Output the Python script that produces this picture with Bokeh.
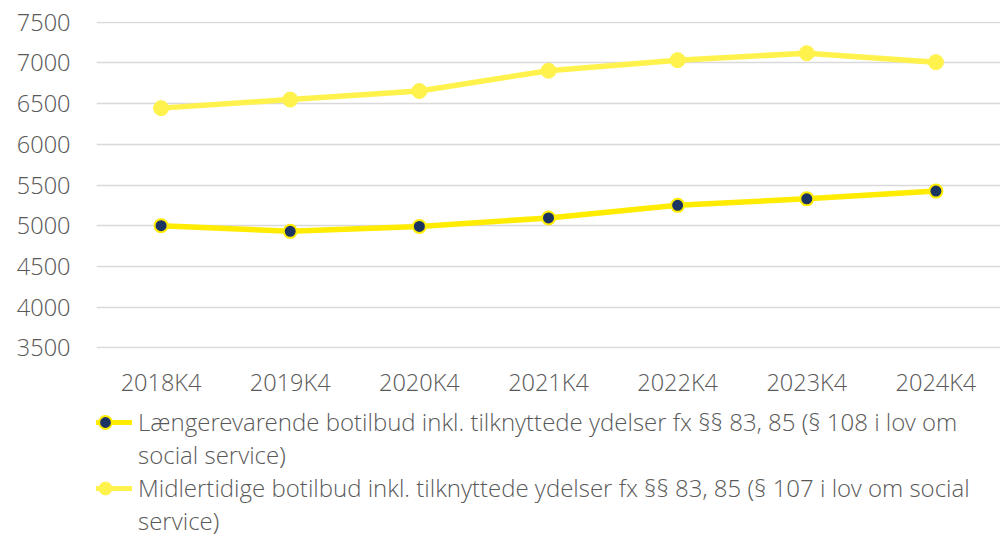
from bokeh.plotting import figure
from bokeh.models import FactorRange, Range1d, FixedTicker, Legend, LegendItem
from bokeh.layouts import column
from bokeh.embed import file_html
from bokeh.resources import INLINE

categories = ["2018K4", "2019K4", "2020K4", "2021K4", "2022K4", "2023K4", "2024K4"]
laengerevarende = [5000, 4930, 4990, 5095, 5250, 5330, 5425]
midlertidige = [6445, 6550, 6655, 6905, 7035, 7120, 7010]
y_ticks = [3500, 4000, 4500, 5000, 5500, 6000, 6500, 7000, 7500]
label_lower = ["Længerevarende botilbud inkl. tilknyttede ydelser fx §§ 83, 85 (§ 108 i lov om",
               "social service)"]
label_upper = ["Midlertidige botilbud inkl. tilknyttede ydelser fx §§ 83, 85 (§ 107 i lov om social",
               "service)"]

FONT = "Open Sans Light"
TEXT = "#595959"
C_LOW = "#FFEC00"
C_UP = "#FFF24D"
C_NAVY = "#1C3461"

p = figure(width=1000, height=400, x_range=FactorRange(*categories),
           y_range=Range1d(3490, 7510), output_backend="svg",
           toolbar_location=None, min_border_left=96, min_border_right=0,
           min_border_top=21, min_border_bottom=52)
p.outline_line_color = None
p.xgrid.grid_line_color = None
p.ygrid.grid_line_color = "#d9d9d9"
p.ygrid.grid_line_width = 1.5
p.yaxis.ticker = FixedTicker(ticks=y_ticks)

for ax in (p.xaxis[0], p.yaxis[0]):
    ax.axis_line_color = None
    ax.major_tick_line_color = None
    ax.minor_tick_line_color = None
    ax.major_tick_in = 0
    ax.major_tick_out = 0
    ax.minor_tick_in = 0
    ax.minor_tick_out = 0
    ax.major_label_text_font = FONT
    ax.major_label_text_font_size = "23.5px"
    ax.major_label_text_color = TEXT
p.yaxis.major_label_standoff = 26
p.xaxis.major_label_standoff = 17

p.line(categories, laengerevarende, line_color=C_LOW, line_width=5.5)
p.scatter(categories, laengerevarende, size=13, fill_color=C_NAVY,
          line_color=C_LOW, line_width=2)
p.line(categories, midlertidige, line_color=C_UP, line_width=5.5)
p.scatter(categories, midlertidige, size=15, fill_color=C_UP,
          line_color=C_UP, line_width=1)

# legend figure: same series, drawn out of its (empty) y range, used only for the legend
q = figure(width=1000, height=135, x_range=p.x_range, y_range=Range1d(0, 1),
           output_backend="svg", toolbar_location=None, x_axis_type=None,
           y_axis_type=None, min_border=0)
q.outline_line_color = None
q.grid.grid_line_color = None
ql1 = q.line(categories, laengerevarende, line_color=C_LOW, line_width=5)
qs1 = q.scatter(categories, laengerevarende, size=12, fill_color=C_NAVY,
                line_color=C_LOW, line_width=2)
ql2 = q.line(categories, midlertidige, line_color=C_UP, line_width=5)
qs2 = q.scatter(categories, midlertidige, size=14, fill_color=C_UP,
                line_color=C_UP, line_width=1)
blank = q.line(categories, laengerevarende, line_alpha=0)

legend = Legend(items=[LegendItem(label=label_lower[0], renderers=[ql1, qs1]),
                       LegendItem(label=label_lower[1], renderers=[blank]),
                       LegendItem(label=label_upper[0], renderers=[ql2, qs2]),
                       LegendItem(label=label_upper[1], renderers=[blank])],
                location=(-18, -2), orientation="vertical",
                label_text_font=FONT, label_text_font_size="24px",
                label_text_color=TEXT, label_text_line_height=1.0,
                glyph_width=54, glyph_height=32, label_standoff=6,
                label_height=32, padding=0, spacing=0, margin=0,
                border_line_color=None, background_fill_alpha=0)
q.add_layout(legend, "center")

open("out.html", "w").write(file_html(column(p, q, spacing=0), INLINE))
